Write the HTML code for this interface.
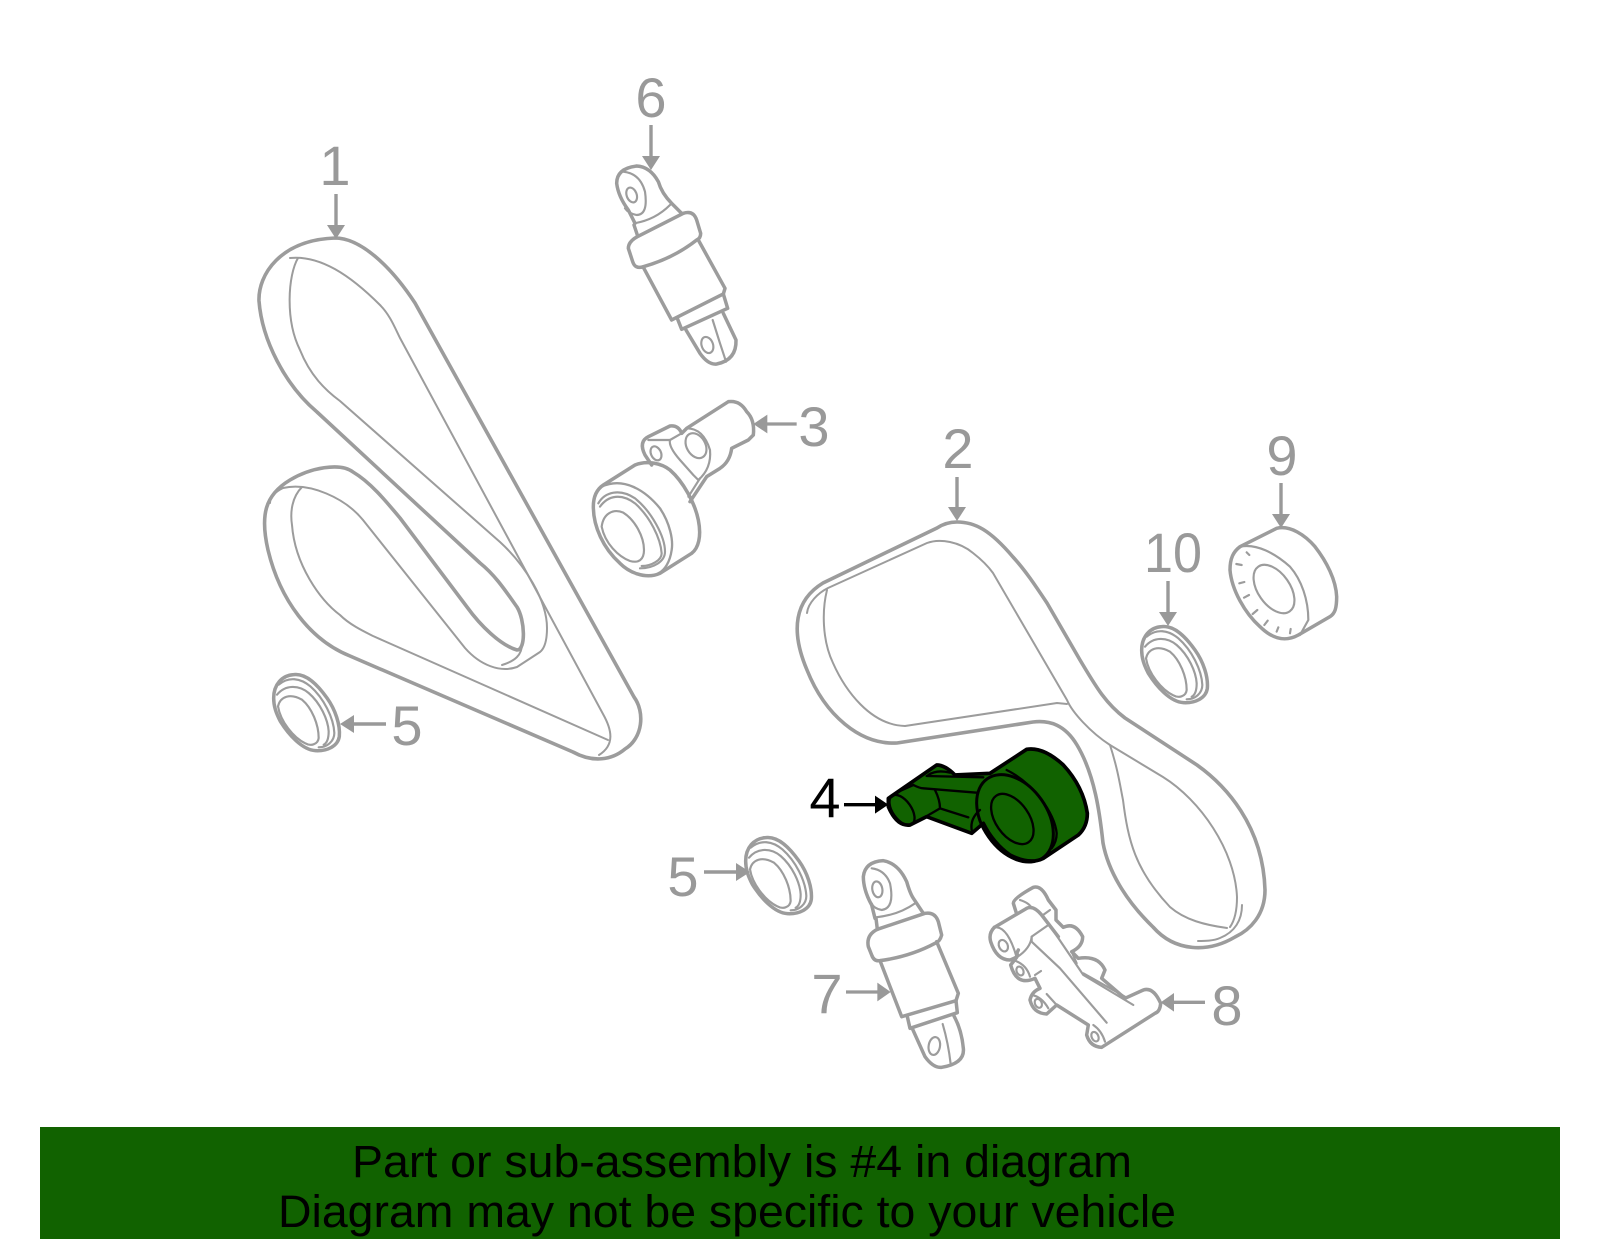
<!DOCTYPE html>
<html><head><meta charset="utf-8"><style>
html,body{margin:0;padding:0;background:#fff}
svg{display:block}
text{font-family:"Liberation Sans",sans-serif}
.n{font-size:56px;fill:#999;text-anchor:middle}
.o{fill:none;stroke:#9c9c9c;stroke-width:3.6;stroke-linejoin:round;stroke-linecap:round}
.t{fill:none;stroke:#9c9c9c;stroke-width:2;stroke-linejoin:round;stroke-linecap:round}
.z .o{stroke-width:10.5}
.z .t{stroke-width:6.5}
.a{stroke:#999;stroke-width:3.4;fill:none}
.h{fill:#999}
</style></head><body>
<svg width="1600" height="1249" viewBox="0 0 1600 1249" xmlns="http://www.w3.org/2000/svg">
<rect width="1600" height="1249" fill="#fff"/>

<!-- belt 1 -->
<path class="o" d="M335 238 C360 238 390 265 415 303 L634 697 C645 712 643 738 625 749 C612 760 593 763 573 752 L350 656 C310 640 280 600 268 550 C260 515 265 495 290 480 C310 468 340 462 353 472 C370 482 385 500 400 518 L467 607 C480 625 500 645 517 650 C526 650 525 620 517 607 C505 590 495 575 480 563 L317 412 C285 385 262 340 259 301 C258 275 280 240 335 238 Z"/>
<path class="t" d="M290 258 C320 255 350 275 380 305 C390 315 395 328 400 338 L603 714 C612 730 615 745 599 755"/>
<path class="t" d="M298 258 C288 275 285 320 300 350 C310 375 325 390 340 401 L500 542 C525 565 547 600 547 628 C547 640 545 648 540 652 L517 667 C500 673 480 665 465 648 L363 520 C345 498 310 482 283 488 C275 492 270 497 270 503"/>
<path class="t" d="M302 487 C292 497 290 512 292 525 C295 565 320 600 340 615 C350 625 365 632 373 636 L608 740"/>
<path class="t" d="M502 665 C515 661 522 655 522 644"/>

<!-- belt 2 -->
<path class="o" d="M957 522 C975 522 990 530 1013 557 C1025 570 1035 585 1047 603 L1080 660 C1095 685 1105 703 1125 718 L1197 765 C1225 785 1263 825 1265 890 C1265 915 1250 930 1235 937 C1208 953 1175 952 1153 927 C1125 900 1108 870 1103 843 C1100 815 1095 775 1077 745 C1065 725 1050 720 1033 722 L897 743 C860 745 825 715 807 670 C790 630 795 600 823 583 L937 528 C943 524 950 522 957 522 Z"/>
<path class="t" d="M807 613 C808 603 818 593 828 588 L927 543 C940 538 960 542 973 553 C982 560 988 566 993 573 L1067 700 C1072 712 1090 732 1110 745 L1163 777 C1200 800 1235 850 1237 897 C1237 910 1235 920 1230 927"/>
<path class="t" d="M1242 905 C1242 920 1235 932 1220 938 C1213 941 1205 941 1198 941"/>
<path class="t" d="M827 590 C822 610 822 640 833 663 C845 690 870 725 905 726 L1057 703 L1067 704"/>
<path class="t" d="M1110 745 C1118 770 1120 785 1123 800 C1128 840 1135 870 1170 907 C1185 920 1205 925 1227 928"/>

<!-- part 4 -->
<g class="z" transform="translate(780,720) scale(.33333)">
<path fill="#116200" stroke="#000" stroke-width="11" stroke-linejoin="round" d="M325 235 L470 135 Q495 135 525 165 L630 160 L740 88 Q790 80 850 135 Q910 200 922 280 Q922 320 895 345 L790 415 Q750 435 690 405 Q640 370 610 310 L575 340 L440 290 L390 315 Q350 320 325 260 Z"/>
<g fill="none" stroke="#000" stroke-width="7" stroke-linecap="round" stroke-linejoin="round">
<path d="M400 195 Q420 205 430 205 L590 218"/>
<path d="M440 168 L610 172"/>
<path d="M445 165 Q470 148 510 158"/>
<path d="M355 215 L400 195"/>
<path d="M465 210 Q480 240 480 265 L420 300"/>
<path d="M480 265 L565 292"/>
<path d="M575 330 Q570 295 600 270"/>
<path d="M680 150 C760 190 825 280 830 340 Q830 365 815 385"/>
<ellipse cx="366" cy="270" rx="52" ry="28" transform="rotate(55 366 270)"/>
<ellipse cx="697" cy="297" rx="85" ry="50" transform="rotate(55 697 297)"/>
</g>
<ellipse cx="705" cy="295" rx="145" ry="97" transform="rotate(55 705 295)" fill="none" stroke="#000" stroke-width="9"/>
<path d="M192 254 H290" stroke="#000" stroke-width="10"/>
<path d="M285 227 L325 254 L285 281 Z" fill="#000"/>
</g>
<text x="825" y="817" font-size="56" fill="#000" text-anchor="middle">4</text>

<!-- part 6 -->
<g class="z" transform="translate(560,60) scale(.33333)">
<path class="o" d="M225 490 L205 450 Q175 410 170 370 Q170 325 230 318 Q270 320 295 365 Q305 400 335 430 L365 460"/>
<path class="t" d="M190 335 Q240 340 255 395 Q265 465 230 465 Q205 460 195 445"/>
<ellipse class="t" cx="215" cy="405" rx="15" ry="23" transform="rotate(-20 215 405)"/>
<path class="t" d="M222 490 Q285 480 330 435"/>
<path class="o" d="M222 495 L232 525"/>
<path class="o" d="M232 530 L370 460 Q400 450 410 480 L422 520 Q422 535 410 540 Q340 595 250 620 Q225 628 218 605 L205 565 Q205 545 232 530 Z"/>
<path class="o" d="M250 622 L335 780 L490 702 L495 685 L415 540"/>
<path class="o" d="M490 702 L503 745 L365 808 L352 775"/>
<path class="o" d="M378 810 L420 880 Q445 915 470 912 Q530 900 528 840 L490 760"/>
<path class="t" d="M458 780 L480 850 Q490 880 498 905"/>
<ellipse class="t" cx="442" cy="855" rx="17" ry="25" transform="rotate(-20 442 855)"/>
</g>
<text class="n" x="651" y="117">6</text>
<path class="a" d="M651 125 V158"/><path class="h" d="M642 156 H660 L651 170 Z"/>

<!-- part 7 and 8 -->
<g class="z" transform="translate(800,840) scale(.33333)">
<path class="o" d="M225 235 L215 195 Q190 150 190 110 Q195 65 250 62 Q295 70 320 125 Q330 160 340 175 L370 220"/>
<path class="t" d="M215 85 Q255 90 270 130 Q285 205 245 210 Q220 205 215 190"/>
<ellipse class="t" cx="232" cy="148" rx="15" ry="24" transform="rotate(-10 232 148)"/>
<path class="t" d="M228 232 Q295 225 345 190"/>
<path class="o" d="M228 235 L232 268"/>
<path class="o" d="M232 268 L375 220 Q405 215 415 245 L425 285 Q420 305 405 310 Q330 350 240 362 Q222 365 215 345 L205 320 Q198 285 232 268 Z"/>
<path class="o" d="M240 362 L305 530 L468 482 L475 460 L410 305"/>
<path class="o" d="M468 482 L472 518 L330 565 L322 530"/>
<path class="o" d="M338 568 L375 650 Q400 685 425 682 Q495 670 490 625 Q485 570 462 528"/>
<path class="t" d="M428 552 Q445 610 452 672"/>
<ellipse class="t" cx="403" cy="618" rx="17" ry="27" transform="rotate(10 403 618)"/>
<path class="a" style="stroke-width:10" d="M138 456 H240"/><path class="h" d="M232 428 L272 456 L232 484 Z"/>

<path class="o" d="M583 262 L680 205 Q700 195 725 225 L775 290 M650 222 L640 190 Q640 175 700 142 Q725 135 745 180 L768 210 L768 240 L790 262 Q825 245 848 290 Q848 320 815 335 L835 355 Q895 345 915 390 L905 415 L975 475 L1030 450 Q1060 440 1082 490 Q1080 515 1065 520 L905 622 Q870 620 860 585 L865 555 L770 495 L740 522 Q700 520 690 480 Q695 455 720 445 L705 415 Q650 440 632 375 L650 352"/>
<path class="o" d="M583 262 Q565 280 572 305 Q590 360 630 360 Q660 350 650 340 L655 330"/>
<path class="t" d="M590 262 Q625 265 650 352"/>
<ellipse class="t" cx="610" cy="317" rx="13" ry="18" transform="rotate(-25 610 317)"/>
<path class="t" d="M660 180 Q690 190 695 205"/>
<path class="t" d="M750 210 L725 228"/>
<path class="t" d="M745 250 L850 405 L1000 495"/>
<path class="t" d="M745 255 L695 290 L695 305 L780 385 L920 548"/>
<path class="t" d="M695 290 Q692 325 650 352"/>
<path class="t" d="M815 335 L830 370"/>
<path class="t" d="M850 400 L975 470"/>
<ellipse class="t" cx="660" cy="393" rx="10" ry="14" transform="rotate(-25 660 393)"/>
<path class="t" d="M645 362 Q680 375 690 410"/>
<ellipse class="t" cx="715" cy="490" rx="10" ry="14" transform="rotate(-25 715 490)"/>
<path class="t" d="M695 465 Q725 470 745 505"/>
<path class="t" d="M740 462 L770 495"/>
<path class="t" d="M705 405 L723 393"/>
<ellipse class="t" cx="885" cy="590" rx="10" ry="15" transform="rotate(-25 885 590)"/>
<path class="t" d="M880 555 Q905 572 915 605"/>
<path class="a" style="stroke-width:10" d="M1215 487 H1115"/><path class="h" d="M1122 459 L1082 487 L1122 515 Z"/>
</g>
<text class="n" x="827" y="1013">7</text>
<text class="n" x="1227" y="1025">8</text>

<!-- part 3 -->
<g class="z" transform="translate(570,380) scale(.33333)">
<path class="o" d="M70 380 C70 345 85 325 100 315 L195 255 C230 240 275 250 300 270 C340 305 375 370 385 420 C395 470 385 505 365 520 L270 580 C225 600 175 575 150 550 C100 505 70 440 70 380 Z"/>
<path class="t" d="M95 320 C160 290 225 330 270 385 C300 430 310 480 305 510 C300 545 285 570 265 580" style="stroke-width:7"/>
<path class="t" d="M85 370 C105 335 150 325 195 355 C245 395 285 470 285 515 C285 545 250 565 210 565"/>
<path class="t" d="M90 380 C115 345 155 340 195 370 C240 410 272 475 275 520 C275 540 245 558 215 558"/>
<path class="t" d="M95 440 C100 400 130 385 160 398 C195 420 222 470 222 510 C222 540 205 550 180 543 C145 530 105 490 95 440 Z"/>
<path class="o" d="M245 255 L225 225 Q205 185 235 170 L300 138 Q325 135 335 160 L350 145 L475 65 Q510 60 530 95 Q555 120 550 165 L535 180 L485 205 Q480 245 450 265 L410 290 L360 365"/>
<path class="t" d="M390 295 L355 350"/>
<ellipse class="t" cx="378" cy="197" rx="28" ry="40" transform="rotate(-30 378 197)"/>
<path class="t" d="M350 145 Q400 145 420 210 Q425 265 385 300 L370 285 L330 240 Q295 200 300 180 L335 160"/>
<path class="t" d="M235 180 L300 180"/>
<ellipse class="t" cx="258" cy="220" rx="15" ry="22" transform="rotate(-25 258 220)"/>
<path class="a" style="stroke-width:10" d="M680 132 H585"/><path class="h" d="M592 104 L550 132 L592 160 Z"/>
</g>
<text class="n" x="814" y="446">3</text>

<!-- part 9 -->
<g class="z" transform="translate(1120,420) scale(.33333)">
<path class="o" d="M360 380 L470 325 C510 315 555 345 585 380 C620 425 648 480 650 530 C650 565 645 580 630 590 L535 645 C490 670 450 650 420 620 C375 580 335 510 330 450 C330 415 340 395 360 380 Z"/>
<path class="t" d="M360 380 C410 370 465 400 510 440 C545 480 565 540 565 600 L540 645"/>
<ellipse class="t" cx="462" cy="507" rx="82" ry="48" transform="rotate(55 462 507)"/>
<path class="t" d="M380 397 L388 405 M349 432 L365 435 M358 490 L373 486 M372 533 L387 525 M398 582 L412 570 M433 615 L443 602 M470 635 L475 622 M510 640 L512 627"/>
</g>
<text class="n" x="1282" y="475">9</text>
<path class="a" d="M1281 483 V516"/><path class="h" d="M1272 514 H1290 L1281 528 Z"/>

<!-- part 10 -->
<g class="z" transform="translate(1120,420) scale(.33333)">
<path class="o" d="M65 690 C65 650 90 622 125 620 C165 615 200 655 225 690 C250 725 265 770 262 805 C258 835 225 850 190 848 C150 845 110 800 85 760 C72 735 65 715 65 690 Z"/>
<path class="t" d="M80 650 C110 625 145 630 175 655 C215 690 245 750 247 795 C247 820 225 838 200 838"/>
<path class="t" d="M75 680 C100 650 140 650 170 675 C205 705 228 755 230 790 C230 810 225 825 215 830"/>
<path class="t" d="M78 715 C85 685 115 675 150 695 C180 720 200 770 200 810 C198 830 175 835 160 826 C125 810 85 760 78 715 Z"/>
</g>
<text class="n" x="1173" y="572" textLength="58" lengthAdjust="spacingAndGlyphs">10</text>
<path class="a" d="M1168 581 V614"/><path class="h" d="M1159 612 H1177 L1168 626 Z"/>

<!-- lower 5 -->
<g class="z" transform="translate(724,631) scale(.33333)">
<path class="o" d="M65 690 C65 650 90 622 125 620 C165 615 200 655 225 690 C250 725 265 770 262 805 C258 835 225 850 190 848 C150 845 110 800 85 760 C72 735 65 715 65 690 Z"/>
<path class="t" d="M80 650 C110 625 145 630 175 655 C215 690 245 750 247 795 C247 820 225 838 200 838"/>
<path class="t" d="M75 680 C100 650 140 650 170 675 C205 705 228 755 230 790 C230 810 225 825 215 830"/>
<path class="t" d="M78 715 C85 685 115 675 150 695 C180 720 200 770 200 810 C198 830 175 835 160 826 C125 810 85 760 78 715 Z"/>
</g>
<text class="n" x="683" y="896">5</text>
<path class="a" d="M704 872 H738"/><path class="h" d="M736 863 V881 L750 872 Z"/>

<!-- upper 5 -->
<g class="z" transform="translate(252,468) scale(.33333)">
<path class="o" d="M65 690 C65 650 90 622 125 620 C165 615 200 655 225 690 C250 725 265 770 262 805 C258 835 225 850 190 848 C150 845 110 800 85 760 C72 735 65 715 65 690 Z"/>
<path class="t" d="M80 650 C110 625 145 630 175 655 C215 690 245 750 247 795 C247 820 225 838 200 838"/>
<path class="t" d="M75 680 C100 650 140 650 170 675 C205 705 228 755 230 790 C230 810 225 825 215 830"/>
<path class="t" d="M78 715 C85 685 115 675 150 695 C180 720 200 770 200 810 C198 830 175 835 160 826 C125 810 85 760 78 715 Z"/>
</g>
<text class="n" x="407" y="745">5</text>
<path class="a" d="M386 724 H352"/><path class="h" d="M354 715 V733 L340 724 Z"/>

<!-- labels 1, 2 -->
<text class="n" x="335" y="185">1</text>
<path class="a" d="M336 194 V227"/><path class="h" d="M327 225 H345 L336 239 Z"/>
<text class="n" x="958" y="468">2</text>
<path class="a" d="M957 477 V509"/><path class="h" d="M948 507 H966 L957 521 Z"/>

<!-- caption band -->
<rect x="40" y="1127" width="1520" height="112" fill="#116200"/>
<text x="352" y="1177" font-size="45" fill="#000" textLength="780" lengthAdjust="spacingAndGlyphs">Part or sub-assembly is #4 in diagram</text>
<text x="278" y="1227" font-size="45" fill="#000" textLength="898" lengthAdjust="spacingAndGlyphs">Diagram may not be specific to your vehicle</text>
</svg>
</body></html>
